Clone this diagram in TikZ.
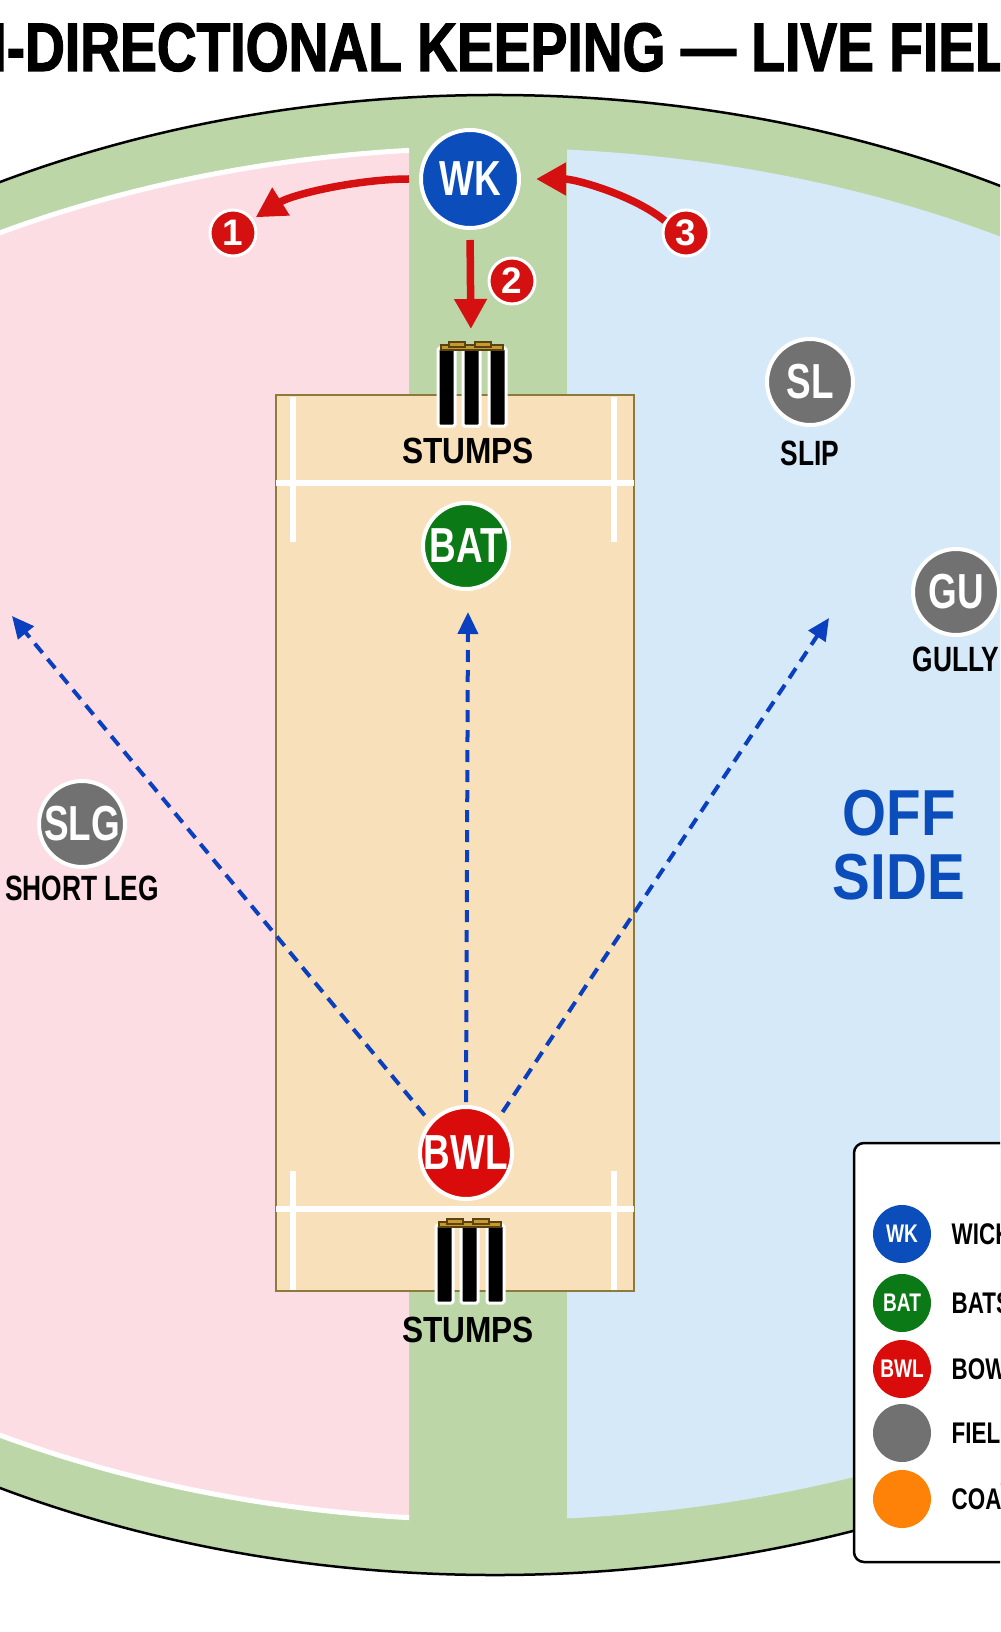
\documentclass[tikz,border=0pt]{standalone}
\usepackage{fontspec}
\usepackage{graphicx}
\setmainfont{Liberation Sans}
\newfontfamily\condfont{Liberation Sans}[FakeStretch=0.75]
\newfontfamily\narrowfont{Liberation Sans}[FakeStretch=0.87]
\newfontfamily\titlefont{Liberation Sans}[FakeStretch=0.7, FakeBold=1.5]
\usetikzlibrary{arrows.meta, positioning}
\definecolor{FieldGreen}{HTML}{BCD6A8}
\definecolor{LegPink}{HTML}{FDDDE4}
\definecolor{OffBlue}{HTML}{D6E9F9}
\definecolor{PitchTan}{HTML}{F8E0BB}
\definecolor{PitchEdge}{HTML}{8C7B3A}
\definecolor{KeeperBlue}{HTML}{0A4DBB}
\definecolor{BatGreen}{HTML}{0B7A16}
\definecolor{BowlRed}{HTML}{D90B0B}
\definecolor{FieldGray}{HTML}{717171}
\definecolor{CoachOrange}{HTML}{FF8208}
\definecolor{ArrowRed}{HTML}{D41010}
\definecolor{PathBlue}{HTML}{0A3FC0}
\definecolor{BailGold}{HTML}{C89A2E}
\definecolor{BailEdge}{HTML}{5A4310}
\tikzset{
   player/.style={circle, draw=white, line width=0.8mm, text=white, inner sep=0pt,
      font=\condfont\bfseries\fontsize{28}{28}\selectfont},
   fielder/.style={player, fill=FieldGray, minimum size=17.2mm},
   numtag/.style={circle, fill=ArrowRed, draw=white, line width=0.6mm, minimum size=9.2mm,
      inner sep=0pt, text=white, font=\bfseries\fontsize{21}{21}\selectfont},
   poslabel/.style={inner sep=0pt, font=\condfont\bfseries\fontsize{20}{20}\selectfont},
   runarrow/.style={ArrowRed, line width=1.5mm, -{Triangle[length=6mm, width=6.2mm]}},
   pathline/.style={PathBlue, line width=0.8mm, dash pattern=on 2.4mm off 1.6mm,
      -{Triangle[length=4.4mm, width=4mm]}},
   keyitem/.style={circle, inner sep=0pt, minimum size=11.6mm, text=white,
      font=\condfont\bfseries\fontsize{14.5}{14.5}\selectfont},
   keytext/.style={inner sep=0pt, font=\condfont\bfseries\fontsize{17}{17}\selectfont}
}
\begin{document}
\begin{tikzpicture}[x=0.2mm, y=-0.2mm]
      \useasboundingbox (0,0) rectangle (1000,1632);
      \clip (0,0) rectangle (1000,1632);
      \fill[white] (0,0) rectangle (1000,1632);
      % Title
      \node[anchor=base west, inner sep=0pt] (title) at (-9,71)
         {\resizebox{203.4mm}{9.6mm}{\titlefont\bfseries I-DIRECTIONAL KEEPING — LIVE FIEL}};
      % Outfield
      \draw[fill=FieldGreen, line width=0.5mm] (495,835) ellipse [x radius=210.2mm, y radius=148mm];
      % Leg side
      \begin{scope}
         \clip (-10,0) rectangle (409,1632);
         \fill[LegPink] (495,834) ellipse [x radius=205.4mm, y radius=137.2mm];
         \draw[white, line width=1mm] (495,834) ellipse [x radius=205.4mm, y radius=137.2mm];
      \end{scope}
      % Off side
      \begin{scope}
         \clip (567,0) rectangle (1010,1632);
         \fill[OffBlue] (495,834) ellipse [x radius=205.4mm, y radius=137.2mm];
      \end{scope}
      % Pitch and creases
      \draw[fill=PitchTan, draw=PitchEdge, line width=0.4mm] (276,395) rectangle (634,1291);
      \draw[white, line width=1.2mm] (276,483) -- (634,483);
      \draw[white, line width=1.2mm] (293,397) -- (293,542);
      \draw[white, line width=1.2mm] (614,397) -- (614,542);
      \draw[white, line width=1.2mm] (276,1209) -- (634,1209);
      \draw[white, line width=1.2mm] (293,1171) -- (293,1290);
      \draw[white, line width=1.2mm] (614,1171) -- (614,1290);
      % Stumps at both ends
      \foreach \sx/\sy in {438/342, 436/1219} {
         \foreach \k in {0,25,51}
            \draw[white, line width=0.6mm, fill=black, rounded corners=0.3mm]
               ({\sx+\k},{\sy+6}) rectangle ++(17,78);
         \draw[BailEdge, line width=0.3mm, fill=BailGold] ({\sx+3},{\sy+3}) rectangle ({\sx+65},{\sy+8});
         \draw[BailEdge, line width=0.3mm, fill=BailGold] ({\sx+11},{\sy}) rectangle ({\sx+27},{\sy+5});
         \draw[BailEdge, line width=0.3mm, fill=BailGold] ({\sx+37},{\sy}) rectangle ({\sx+53},{\sy+5});
      }
      \coordinate (stumpsT) at (471,342);
      \node[poslabel, anchor=base] (stumpsTlab) at (468,463)
         {\narrowfont\bfseries\fontsize{20.7}{20.7}\selectfont STUMPS};
      \node[poslabel, anchor=base] (stumpsBlab) at (468,1342)
         {\narrowfont\bfseries\fontsize{20.7}{20.7}\selectfont STUMPS};
      % Players
      \node[player, fill=KeeperBlue, minimum size=19.6mm] (wk) at (470,179) {WK};
      \node[player, fill=BatGreen, minimum size=17.2mm] (bat) at (466,546) {BAT};
      \node[player, fill=BowlRed, minimum size=18.4mm] (bwl) at (466,1153) {BWL};
      % Ball paths from the bowler
      \coordinate (tipL) at (12,616);
      \coordinate (tipM) at (468,612);
      \coordinate (tipR) at (829,618);
      \draw[pathline, shorten <=1.6mm] (bwl.139) -- (tipL);
      \draw[pathline, shorten <=0.6mm] (bwl.90) -- (tipM);
      \draw[pathline, shorten <=1.4mm] (bwl.47) -- (tipR);
      % Fielders
      \node[fielder] (sl) at (810,382) {SL};
      \node[poslabel, below=2.8mm of sl] (sllab) {SLIP};
      \node[fielder] (gu) at (956,592) {GU};
      \node[poslabel, below=2mm of gu] (gulab) {GULLY};
      \node[fielder] (slg) at (82,824) {SLG};
      \node[poslabel, below=1.4mm of slg] (slglab) {SHORT LEG};
      % Keeper's three moves
      \node[numtag] (n1) at (233,233) {1};
      \node[numtag] (n2) at (512,281) {2};
      \node[numtag] (n3) at (686,233) {3};
      \draw[runarrow, shorten <=2mm, shorten >=0.6mm] (wk.west) .. controls +(-60,0) and +(40,-25) .. (n1.35);
      \draw[runarrow, shorten <=2mm, shorten >=2.6mm] (wk.south) -- (stumpsT);
      \draw[runarrow, shorten >=3mm] (n3.150) .. controls +(-30,-25) and +(55,0) .. (wk.east);
      % Side name
      \node[align=center, inner sep=0pt, text=KeeperBlue,
         font=\narrowfont\bfseries\fontsize{37}{36.4}\selectfont] (offside) at (899,845) {OFF\\SIDE};
      % Legend
      \draw[line width=0.5mm, fill=white, rounded corners=2mm] (854,1143) rectangle (1030,1562);
      \foreach \ty/\tc/\tl/\tt [count=\i] in {1234/KeeperBlue/WK/WICKET KEEPER,
            1303/BatGreen/BAT/BATSMAN, 1369/BowlRed/BWL/BOWLER,
            1433/FieldGray//FIELDER, 1499/CoachOrange//COACH} {
         \node[keyitem, fill=\tc] (key\i) at (902,\ty) {\tl};
         \node[keytext, right=4mm of key\i] (keylab\i) {\tt};
      }
   \end{tikzpicture}
\end{document}
